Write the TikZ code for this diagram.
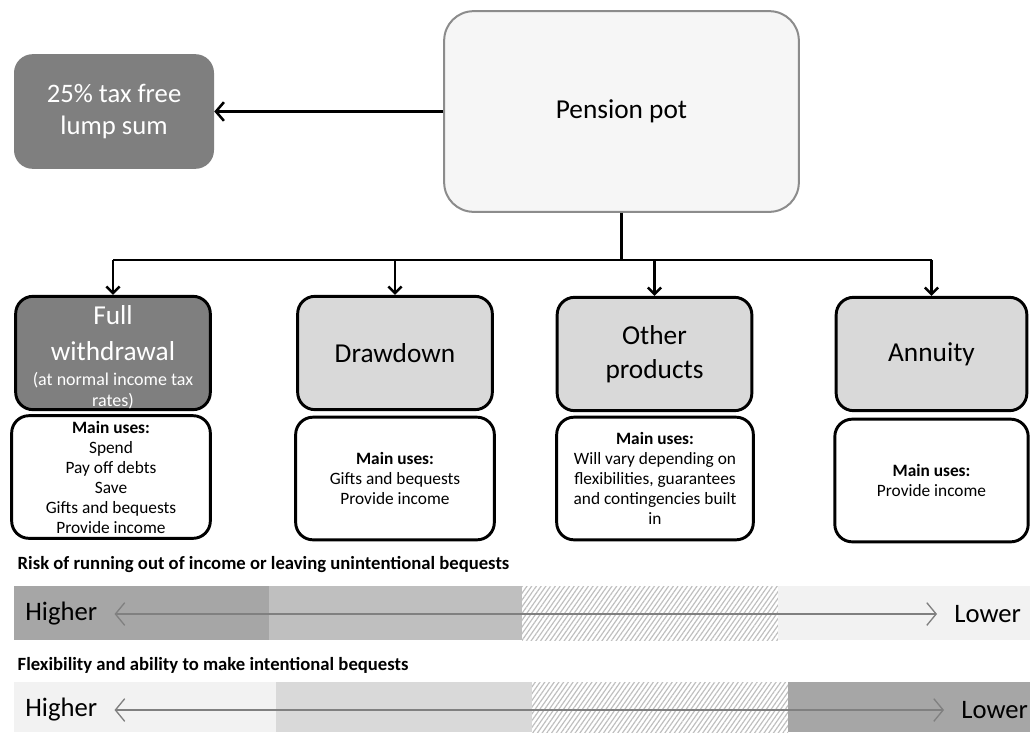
\documentclass[tikz,border=0pt]{standalone}
\usepackage{fontspec}
\setmainfont{Carlito}
\usetikzlibrary{arrows.meta,patterns.meta,positioning}
\definecolor{DarkClr}{HTML}{7F7F7F}
\definecolor{BoxClr}{HTML}{D9D9D9}
\definecolor{PotClr}{HTML}{F6F6F6}
\definecolor{PotLine}{HTML}{8C8C8C}
\definecolor{BarDark}{HTML}{A6A6A6}
\definecolor{BarMid}{HTML}{BFBFBF}
\definecolor{BarLight}{HTML}{F2F2F2}
\definecolor{ArrowClr}{HTML}{808080}
\newcommand{\smalltxt}{\fontsize{13.5}{15.8}\selectfont}

\begin{document}
\begin{tikzpicture}[x=0.75pt,y=-0.75pt,
  pot/.style={draw=PotLine,line width=1.5pt,rounded corners=22pt,fill=PotClr,
    minimum width=266pt,minimum height=150.5pt,font=\fontsize{20.5}{24}\selectfont},
  lump/.style={fill=DarkClr,rounded corners=14pt,text=white,align=center,
    minimum width=150pt,minimum height=86pt,font=\fontsize{20}{24.5}\selectfont},
  title/.style={draw=black,line width=2.2pt,rounded corners=13pt,fill=BoxClr,
    minimum width=146pt,minimum height=85pt,text width=140pt,align=flush center,
    inner sep=0pt,font=\fontsize{20.5}{25.5}\selectfont},
  uses/.style={draw=black,line width=2.2pt,rounded corners=13pt,fill=white,
    minimum width=149pt,minimum height=92pt,text width=145pt,align=flush center,
    inner sep=0pt,font=\fontsize{13}{15}\selectfont},
  heading/.style={anchor=west,font=\fontsize{14}{16}\selectfont\bfseries},
  bartext/.style={font=\fontsize{20}{24}\selectfont,inner sep=1pt,outer sep=12pt},
  mainarrow/.style={line width=1.9pt,-{Straight Barb[length=6pt,width=14pt]}},
  downarrow/.style={line width=1.8pt,-{Straight Barb[length=5pt,width=10pt]}},
  grayarrow/.style={ArrowClr,line width=1pt,{Straight Barb[length=7pt,width=17pt]}-{Straight Barb[length=7pt,width=17pt]}},
  hatch/.style={pattern={Lines[angle=55,distance=2.9pt,line width=0.9pt]},pattern color=BarMid}]
\useasboundingbox (0,0) rectangle (1030,732);

% top row
\node[pot] (pot) at (621.5,111.5) {Pension pot};
\node[lump] (lump) at (114,111.5) {25\% tax free\\lump sum};
\draw[mainarrow] (pot.west) -- (lump.east);

% options
\node[title,fill=DarkClr,text=white] (full) at (113,353)
  {\fontsize{20.5}{27}\selectfont Full\\withdrawal\par\vspace{3pt}
   {\smalltxt (at normal income tax\\rates)\par}\vspace{-7pt}};
\node[title] (draw) at (395,353) {Drawdown};
\node[title] (other) at (654.5,354) {Other\\products};
\node[title,minimum width=143pt] (annuity) at (931.5,354) {Annuity};

\draw[line width=1.8pt] (pot.south) -- ++(0,47) coordinate (split);
\draw[line width=1.8pt] (full.north |- split) -- (annuity.north |- split);
\foreach \n in {full,draw,other,annuity}
  \draw[downarrow] (\n.north |- split) -- (\n.north);

% main uses
\node[uses] (fulluses) at (111,477)
  {\textbf{Main uses:}\\Spend\\Pay off debts\\Save\\Gifts and bequests\\Provide income};
\node[uses] (drawuses) at (395,478.5)
  {\textbf{Main uses:}\\Gifts and bequests\\Provide income};
\node[uses,minimum width=147.5pt] (otheruses) at (655,478.5)
  {\textbf{Main uses:}\\Will vary depending on\\flexibilities, guarantees\\and contingencies built\\in};
\node[uses,minimum width=143pt] (annuses) at (931.5,480.5)
  {\textbf{Main uses:}\\Provide income};

% scales
\node[heading] (risk) at (13,565) {Risk of running out of income or leaving unintentional bequests};
\fill[BarDark] (14,586) rectangle (269,640);
\fill[BarMid] (269,586) rectangle (522,640);
\fill[hatch] (522,586) rectangle (778,640);
\fill[BarLight] (778,586) rectangle (1030,640);
\node[bartext,anchor=west] (hi1) at (8,614) {Higher};
\node[bartext,anchor=west] (lo1) at (937,614) {Lower};
\draw[grayarrow] (hi1) -- (lo1);

\node[heading] (flex) at (13,665) {Flexibility and ability to make intentional bequests};
\fill[BarLight] (14,682) rectangle (276,732);
\fill[BoxClr] (276,682) rectangle (532,732);
\fill[hatch] (532,682) rectangle (788,732);
\fill[BarDark] (788,682) rectangle (1030,732);
\node[bartext,anchor=west] (hi2) at (8,710) {Higher};
\node[bartext,anchor=west] (lo2) at (944,710) {Lower};
\draw[grayarrow] (hi2) -- (lo2);

\end{tikzpicture}
\end{document}
